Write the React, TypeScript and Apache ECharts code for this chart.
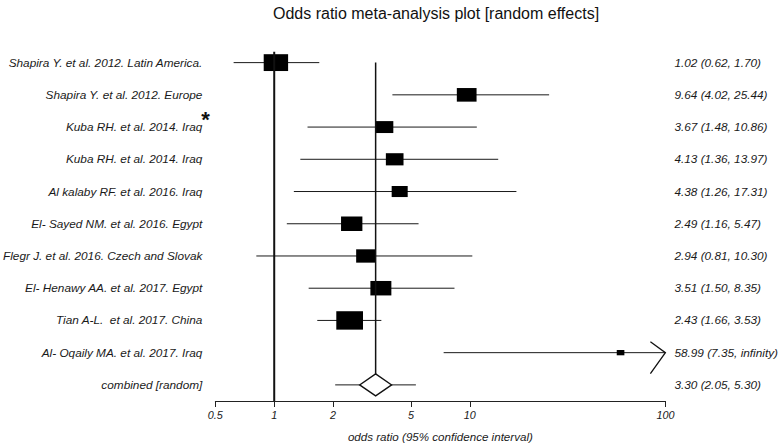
import React, { useEffect, useRef } from 'react';
import * as echarts from 'echarts';

const studies = [
  'Shapira Y. et al. 2012. Latin America.',
  'Shapira Y. et al. 2012. Europe',
  'Kuba RH. et al. 2014. Iraq',
  'Kuba RH. et al. 2014. Iraq',
  'Al kalaby RF. et al. 2016. Iraq',
  'El- Sayed NM. et al. 2016. Egypt',
  'Flegr J. et al. 2016. Czech and Slovak',
  'El- Henawy AA. et al. 2017. Egypt',
  'Tian A-L.  et al. 2017. China',
  'Al- Oqaily MA. et al. 2017. Iraq',
];
const oddsRatios = [1.02, 9.64, 3.67, 4.13, 4.38, 2.49, 2.94, 3.51, 2.43, 58.99];
const lowerCI = [0.62, 4.02, 1.48, 1.36, 1.26, 1.16, 0.81, 1.5, 1.66, 7.35];
const upperCI = [1.7, 25.44, 10.86, 13.97, 17.31, 5.47, 10.3, 8.35, 3.53, Infinity];
const upperCIText = ['1.70', '25.44', '10.86', '13.97', '17.31', '5.47', '10.30', '8.35', '3.53', 'infinity'];
const weights = [15.3, 10.0, 7.7, 8.0, 6.6, 11.7, 9.6, 11.3, 18.3, 1.5];

const combinedLabel = 'combined [random]';
const combinedOR = [3.3];
const combinedLower = [2.05];
const combinedUpper = [5.3];

const xTicks = [0.5, 1, 2, 5, 10, 100];
const xMin = 0.5;
const xMax = 100;

const FONT = '"Liberation Sans", Arial, sans-serif';
const TXT = '#1a1a1a';

const rowLabels = [...studies, combinedLabel];
const ciLabels = [
  ...oddsRatios.map((v, i) => `${v.toFixed(2)} (${lowerCI[i].toFixed(2)}, ${upperCIText[i]})`),
  `${combinedOR[0].toFixed(2)} (${combinedLower[0].toFixed(2)}, ${combinedUpper[0].toFixed(2)})`,
];

export default function App() {
  const ref = useRef<HTMLDivElement>(null);
  useEffect(() => {
    if (!ref.current) return;
    const chart = echarts.init(ref.current, null, { renderer: 'svg' });
    const labelStyle = {
      fontStyle: 'italic' as const,
      fontSize: 11.8,
      fontFamily: FONT,
      color: TXT,
    };
    const option: any = {
      animation: false,
      backgroundColor: '#ffffff',
      title: {
        text: 'Odds ratio meta-analysis plot [random effects]',
        left: 268,
        top: 0,
        textStyle: { fontSize: 16, fontWeight: 'normal', color: '#111', fontFamily: FONT },
      },
      grid: { left: 213, right: 114, top: 46.5, bottom: 44, containLabel: false },
      xAxis: {
        type: 'log',
        logBase: 10,
        min: xMin,
        max: xMax,
        splitLine: { show: false },
        axisLine: { onZero: false, lineStyle: { color: '#222', width: 1 } },
        axisTick: { customValues: xTicks, length: 6, lineStyle: { color: '#222', width: 1 } },
        axisLabel: {
          customValues: xTicks,
          formatter: (v: number) => String(v),
          margin: 8,
          fontStyle: 'italic',
          fontSize: 10.8,
          fontFamily: FONT,
          color: TXT,
        },
        name: 'odds ratio (95% confidence interval)',
        nameLocation: 'middle',
        nameGap: 29,
        nameTextStyle: { ...labelStyle, fontSize: 11.6 },
      },
      yAxis: [
        { type: 'value', inverse: true, min: -0.5, max: 10.5, show: false },
        {
          type: 'category',
          data: rowLabels,
          inverse: true,
          position: 'left',
          axisLine: { show: false },
          axisTick: { show: false },
          splitLine: { show: false },
          axisLabel: { ...labelStyle, interval: 0, margin: 13 },
        },
        {
          type: 'category',
          data: ciLabels,
          inverse: true,
          position: 'right',
          axisLine: { show: false },
          axisTick: { show: false },
          splitLine: { show: false },
          axisLabel: { ...labelStyle, interval: 0, margin: 9 },
        },
      ],
      graphic: [
        {
          type: 'text',
          x: 205.5,
          y: 119,
          style: { text: '*', font: `bold 22px ${FONT}`, align: 'center', verticalAlign: 'middle', fill: '#111' },
        },
      ],
      series: [
        {
          type: 'line',
          yAxisIndex: 0,
          data: [[1, -0.34], [1, 10.5]],
          symbol: 'none',
          silent: true,
          lineStyle: { color: '#111', width: 2 },
        },
        {
          type: 'custom',
          yAxisIndex: 0,
          silent: true,
          data: oddsRatios.map((v, i) => [v, i]),
          encode: { x: 0, y: 1 },
          renderItem: (params: any, api: any) => {
            const i = params.dataIndex;
            const yv = api.value(1);
            const c = api.coord([api.value(0), yv]);
            const lo = api.coord([lowerCI[i], yv]);
            const infinite = !isFinite(upperCI[i]);
            const hi = api.coord([infinite ? xMax : upperCI[i], yv]);
            const w = 6.24 * Math.sqrt(weights[i]);
            const h = w * 0.69;
            const children: any[] = [
              {
                type: 'line',
                shape: { x1: lo[0], y1: lo[1], x2: hi[0], y2: hi[1] },
                style: { stroke: '#1a1a1a', lineWidth: 1 },
              },
              {
                type: 'rect',
                shape: { x: c[0] - w / 2, y: c[1] - h / 2, width: w, height: h },
                style: { fill: '#000' },
              },
            ];
            if (infinite) {
              children.push({
                type: 'polyline',
                shape: { points: [[hi[0] - 15, hi[1] - 11], [hi[0], hi[1]], [hi[0] - 15, hi[1] + 21]] },
                style: { stroke: '#111', lineWidth: 1.3, fill: 'none' },
              });
            }
            return { type: 'group', children };
          },
        },
        {
          type: 'custom',
          yAxisIndex: 0,
          silent: true,
          data: combinedOR.map((v) => [v, studies.length]),
          encode: { x: 0, y: 1 },
          renderItem: (params: any, api: any) => {
            const i = params.dataIndex;
            const yv = api.value(1);
            const c = api.coord([api.value(0), yv]);
            const top = api.coord([api.value(0), 0]);
            const lo = api.coord([combinedLower[i], yv]);
            const hi = api.coord([combinedUpper[i], yv]);
            const hw = 16;
            const hh = 11;
            return {
              type: 'group',
              children: [
                {
                  type: 'line',
                  shape: { x1: top[0], y1: top[1], x2: c[0], y2: c[1] - hh },
                  style: { stroke: '#111', lineWidth: 1.5 },
                },
                {
                  type: 'line',
                  shape: { x1: lo[0], y1: lo[1], x2: hi[0], y2: hi[1] },
                  style: { stroke: '#1a1a1a', lineWidth: 1 },
                },
                {
                  type: 'polygon',
                  shape: { points: [[c[0], c[1] - hh], [c[0] + hw, c[1]], [c[0], c[1] + hh], [c[0] - hw, c[1]]] },
                  style: { fill: '#fff', stroke: '#111', lineWidth: 1.3 },
                },
              ],
            };
          },
        },
      ],
    };
    chart.setOption(option);
    return () => chart.dispose();
  }, []);
  return (
    <div
      ref={ref}
      style={{ position: 'fixed', left: 0, top: 0, width: 781, height: 447, background: '#fff' }}
    />
  );
}
